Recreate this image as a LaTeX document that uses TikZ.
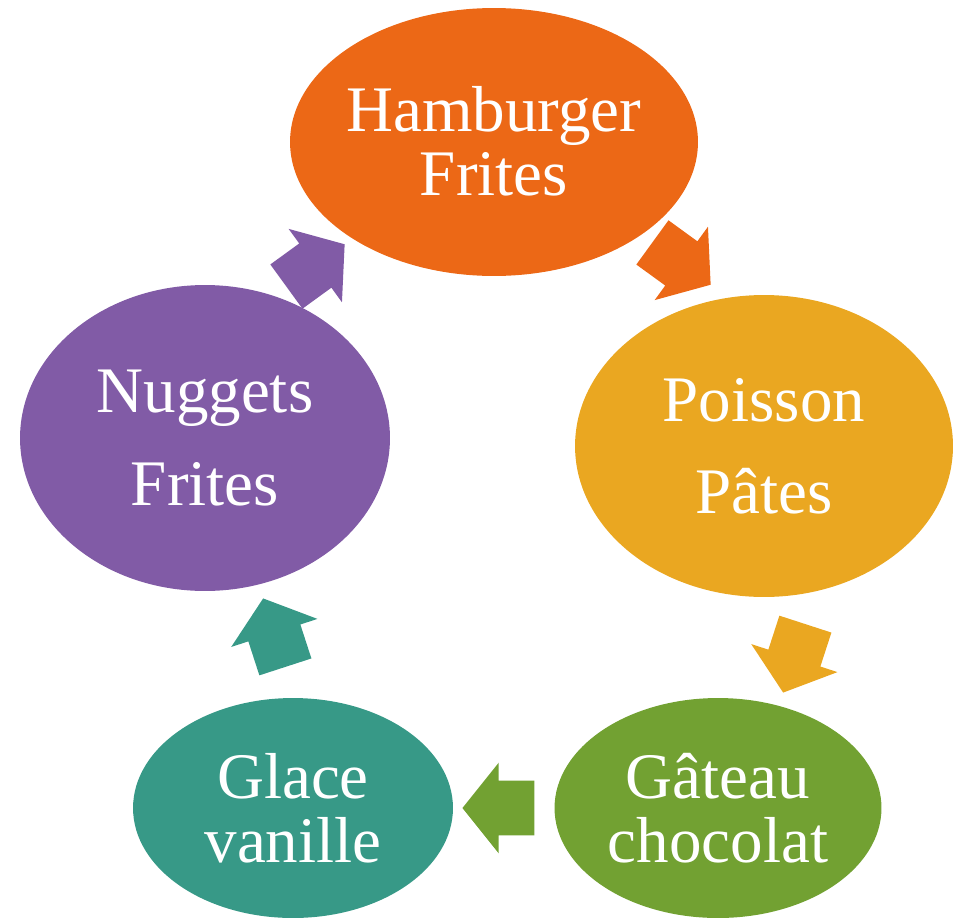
\documentclass[tikz,border=0pt]{standalone}
\usepackage{fontspec}
\setmainfont{Liberation Serif}
\usetikzlibrary{shapes.geometric,shapes.arrows}
\definecolor{hamC}{RGB}{236,104,22}
\definecolor{poiC}{RGB}{234,167,33}
\definecolor{gatC}{RGB}{114,161,50}
\definecolor{glaC}{RGB}{55,153,135}
\definecolor{nugC}{RGB}{129,91,166}
\begin{document}
\begin{tikzpicture}[x=0.02cm,y=-0.02cm,
  dish/.style={ellipse,inner sep=0pt,fill=#1},
  lbl/.style={text=white,align=center,font=\fontsize{37}{36.6}\selectfont},
  blk/.style={single arrow,fill=#1,inner xsep=0pt,inner ysep=0.54cm,
    minimum width=0pt,minimum height=1.44cm,single arrow head extend=0.36cm,
    single arrow tip angle=102.7,anchor=tip}]
\useasboundingbox (0,0) rectangle (955,919);
%the five menus
\node[dish=hamC,minimum width=8.16cm,minimum height=5.36cm] (ham) at (494,142){};
\node[dish=poiC,minimum width=7.56cm,minimum height=6.04cm] (poi) at (764,446){};
\node[dish=gatC,minimum width=6.54cm,minimum height=4.4cm] (gat) at (718,808){};
\node[dish=glaC,minimum width=6.4cm,minimum height=4.4cm] (gla) at (293,808){};
\node[dish=nugC,minimum width=7.4cm,minimum height=6.12cm] (nug) at (205,438){};
\node[lbl] (hamtxt) at (494,141){Hamburger\\Frites};
\node[lbl] (poitxt) at (poi){Poisson\\[0.56cm]Pâtes};
\node[lbl] (gattxt) at (gat){Gâteau\\chocolat};
\node[lbl] (glatxt) at (gla){Glace\\vanille};
\node[lbl] (nugtxt) at (nug){Nuggets\\[0.56cm]Frites};
%arrows round the cycle
\node[blk=hamC,rotate=-36] (toPoi) at (711,285){};
\node[blk=poiC,rotate=-108] (toGat) at (783,693){};
\node[blk=gatC,rotate=180] (toGla) at (462,808){};
\node[blk=glaC,rotate=108] (toNug) at (263,598){};
\node[blk=nugC,rotate=36] (toHam) at (345,244){};
\end{tikzpicture}
\end{document}
